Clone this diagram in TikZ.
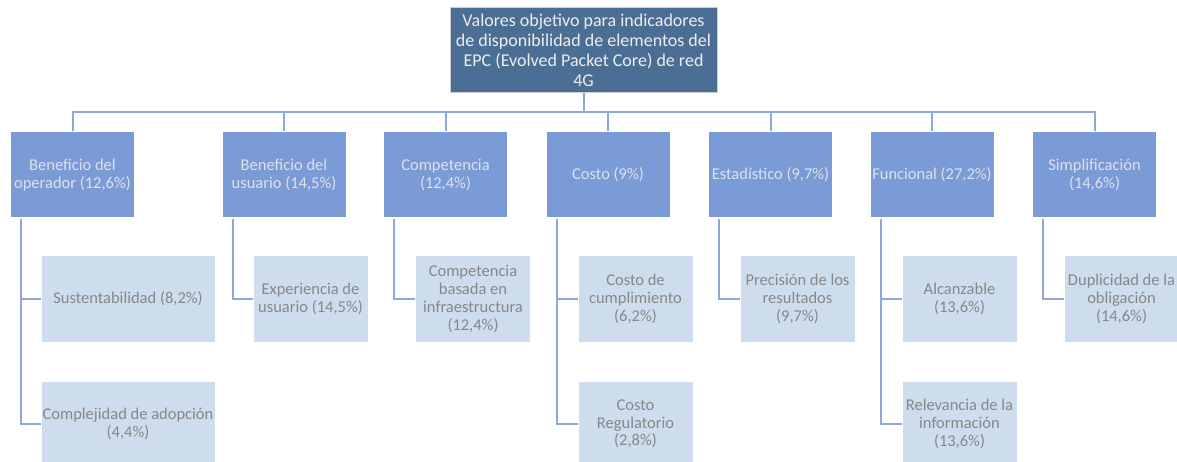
\documentclass[tikz,border=0pt]{standalone}
\usepackage{fontspec}
\setmainfont{Carlito}
\usetikzlibrary{positioning, calc}
\usepackage{xcolor}

\definecolor{topblue}{HTML}{4B6F94}
\definecolor{catblue}{HTML}{7B9BD6}
\definecolor{subblue}{HTML}{CDDDEE}
\definecolor{linkblue}{HTML}{8EA7DC}
\definecolor{cattext}{HTML}{DDE1E8}
\definecolor{subtext}{HTML}{878787}

\tikzset{
  topbox/.style={fill=topblue, draw=gray!40, line width=1pt, text=white!93!black,
    minimum width=267pt, minimum height=85pt, align=center, inner sep=1pt,
    font=\fontsize{18}{20}\selectfont},
  catbox/.style={fill=catblue, draw=white, line width=1pt, text=cattext,
    minimum width=124pt, minimum height=86pt, align=center, inner sep=1pt,
    font=\fontsize{16.5}{17.7}\selectfont},
  subbox/.style={fill=subblue, draw=white, line width=1pt, text=subtext,
    minimum width=115pt, minimum height=86pt, align=center, inner sep=1pt,
    font=\fontsize{16.5}{17.7}\selectfont},
  link/.style={draw=linkblue, line width=2pt}
}

\begin{document}
\begin{tikzpicture}[x=1pt, y=-1pt]
  \useasboundingbox (0,0) rectangle (1177,462);

  % root
  \node[topbox] (epc) at (583.5,50.5) {Valores objetivo para indicadores\\de disponibilidad de elementos del\\EPC (Evolved Packet Core) de red\\4G};

  % categories
  \node[catbox] (oper) at (72.5,175) {Beneficio del\\operador (12,6\%)};
  \node[catbox] (usua) at (284,175) {Beneficio del\\usuario (14,5\%)};
  \node[catbox] (comp) at (445.5,175) {Competencia\\(12,4\%)};
  \node[catbox] (cost) at (608,175) {Costo (9\%)};
  \node[catbox] (esta) at (770.5,175) {Estadístico (9,7\%)};
  \node[catbox] (func) at (932,175) {Funcional (27,2\%)};
  \node[catbox] (simp) at (1094.5,175) {Simplificación\\(14,6\%)};

  % sub-criteria
  \node[subbox, minimum width=174pt] (sust) at (128,299) {Sustentabilidad (8,2\%)};
  \node[subbox, minimum width=174pt] (cadop) at (128,424) {Complejidad de adopción\\(4,4\%)};
  \node[subbox] (expe) at (310.5,299) {Experiencia de\\usuario (14,5\%)};
  \node[subbox] (infra) at (473,299) {Competencia\\basada en\\infraestructura\\(12,4\%)};
  \node[subbox] (cump) at (635.5,299) {Costo de\\cumplimiento\\(6,2\%)};
  \node[subbox] (regu) at (635.5,424) {Costo\\Regulatorio\\(2,8\%)};
  \node[subbox] (prec) at (797.5,299) {Precisión de los\\resultados\\(9,7\%)};
  \node[subbox] (alca) at (959.5,299) {Alcanzable\\(13,6\%)};
  \node[subbox] (rele) at (959.5,424) {Relevancia de la\\información\\(13,6\%)};
  \node[subbox] (dupl) at (1121.5,299) {Duplicidad de la\\obligación\\(14,6\%)};

  % root to categories
  \coordinate (bus) at ($(epc.south)+(0,19)$);
  \draw[link] (epc.south) -- (bus);
  \foreach \c in {oper,usua,comp,cost,esta,func,simp} {
    \draw[link] (\c.north) |- (bus);
  }

  % categories to sub-criteria
  \foreach \c/\s in {oper/sust, oper/cadop, usua/expe, comp/infra, cost/cump,
                     cost/regu, esta/prec, func/alca, func/rele, simp/dupl} {
    \draw[link] ($(\c.south west)+(11,1)$) |- (\s.west);
  }
\end{tikzpicture}
\end{document}
